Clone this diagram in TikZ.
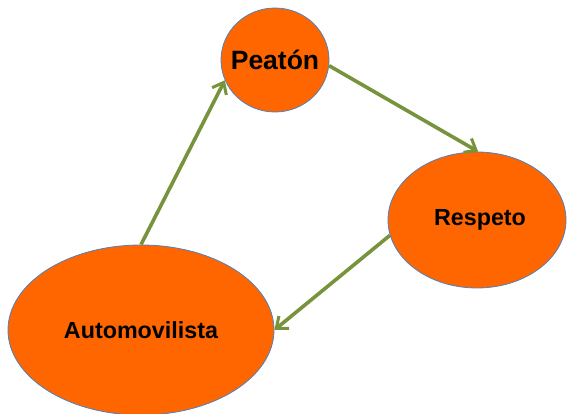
\documentclass[tikz,border=0pt]{standalone}
\usepackage{fontspec}
\setmainfont{Liberation Sans}
\usetikzlibrary{shapes.geometric,arrows.meta}
\definecolor{naranja}{RGB}{255,102,0}
\definecolor{borde}{RGB}{79,129,189}
\definecolor{verde}{RGB}{119,147,60}
\newcommand{\etiq}[1]{\makebox[0pt]{#1}}
\begin{document}
\begin{tikzpicture}[x=1pt,y=-1pt,
  globo/.style={ellipse,fill=naranja,draw=borde,line width=0.8pt,inner sep=0pt},
  flecha/.style={verde,line width=3.6pt,-{Straight Barb[length=10pt,width=16pt,line width=3pt]}}]
%\draw [help lines,black!20!white] (0,0) grid[step=50] (567,414);
\useasboundingbox (0,0) rectangle (567,414);

\node[globo,minimum width=108pt,minimum height=104pt,font=\bfseries\fontsize{26.5}{26.5}\selectfont] (peaton) at (275,60) {\etiq{Peatón}};
\node[globo,minimum width=178pt,minimum height=136pt,font=\bfseries\fontsize{23.3}{23.3}\selectfont] (respeto) at (477,220) {\etiq{\hspace{6pt}Respeto}};
\node[globo,minimum width=266pt,minimum height=170pt,font=\bfseries\fontsize{23.3}{23.3}\selectfont] (auto) at (141,330) {\etiq{Automovilista}};

\draw[flecha] (auto.north) -- (peaton.202);
\draw[flecha] (peaton.354) -- (respeto.89);
\draw[flecha] (respeto.190) -- (auto.east);

\end{tikzpicture}
\end{document}
